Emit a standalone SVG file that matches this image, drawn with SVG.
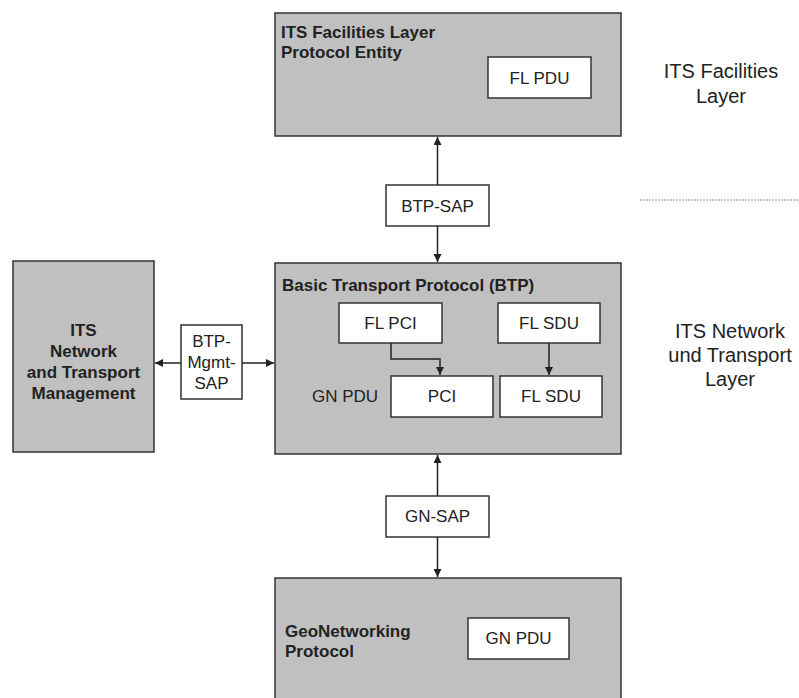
<svg xmlns="http://www.w3.org/2000/svg" width="799" height="698" viewBox="0 0 799 698">
<style>
  .layer { fill: #c0c0c0; stroke: #333; stroke-width: 1.5; }
  .box { fill: #ffffff; stroke: #333; stroke-width: 1.5; }
  .t { font-family: "Liberation Sans", Arial, sans-serif; font-size: 17px; fill: #222; }
  .b { font-weight: bold; }
  .c { text-anchor: middle; }
  .big { font-size: 20px; }
  .conn { stroke: #222; stroke-width: 1.5; fill: none; marker-end: url(#ah); }
</style>
<defs>
  <marker id="ah" viewBox="0 0 10 10" refX="10" refY="5" markerWidth="9" markerHeight="8" markerUnits="userSpaceOnUse" orient="auto">
    <path d="M0,0 L10,5 L0,10 Z" fill="#222"/>
  </marker>
</defs>
<rect width="799" height="698" fill="#ffffff"/>

<g id="facilities-entity">
  <rect class="layer" x="275" y="13" width="346" height="123"/>
  <text class="t b" x="281" y="38">ITS Facilities Layer</text>
  <text class="t b" x="281" y="58">Protocol Entity</text>
  <rect class="box" x="488" y="57" width="103" height="41"/>
  <text class="t c" x="539.5" y="84">FL PDU</text>
</g>

<g id="btp-sap">
  <rect class="box" x="386" y="185" width="103" height="41"/>
  <text class="t c" x="437.5" y="212">BTP-SAP</text>
</g>

<g id="btp">
  <rect class="layer" x="275" y="263" width="346" height="191"/>
  <text class="t b" x="282" y="291">Basic Transport Protocol (BTP)</text>
  <rect class="box" x="339" y="303" width="103" height="40"/>
  <text class="t c" x="390.5" y="329">FL PCI</text>
  <rect class="box" x="498" y="303" width="102" height="40"/>
  <text class="t c" x="549" y="329">FL SDU</text>
  <text class="t" x="312" y="402">GN PDU</text>
  <rect class="box" x="391" y="376" width="102" height="41"/>
  <text class="t c" x="442" y="402">PCI</text>
  <rect class="box" x="500" y="376" width="102" height="41"/>
  <text class="t c" x="551" y="402">FL SDU</text>
</g>

<g id="management">
  <rect class="layer" x="13" y="261" width="141" height="191"/>
  <text class="t b c" x="83.5" y="336">ITS</text>
  <text class="t b c" x="83.5" y="357">Network</text>
  <text class="t b c" x="83.5" y="378">and Transport</text>
  <text class="t b c" x="83.5" y="399">Management</text>
</g>

<g id="btp-mgmt-sap">
  <rect class="box" x="181" y="325" width="61" height="74"/>
  <text class="t c" x="211.5" y="347">BTP-</text>
  <text class="t c" x="211.5" y="368">Mgmt-</text>
  <text class="t c" x="211.5" y="389">SAP</text>
</g>

<g id="gn-sap">
  <rect class="box" x="386" y="496" width="103" height="41"/>
  <text class="t c" x="437.5" y="522">GN-SAP</text>
</g>

<g id="geonetworking">
  <rect class="layer" x="275" y="578" width="346" height="130"/>
  <text class="t b" x="285" y="637">GeoNetworking</text>
  <text class="t b" x="285" y="657">Protocol</text>
  <rect class="box" x="468" y="618" width="101" height="41"/>
  <text class="t c" x="518.5" y="644">GN PDU</text>
</g>

<g id="layer-labels">
  <text class="t c big" x="721" y="78">ITS Facilities</text>
  <text class="t c big" x="721" y="103">Layer</text>
  <line x1="640" y1="200" x2="799" y2="200" stroke="#888" stroke-width="1" stroke-dasharray="2,1"/>
  <text class="t c big" x="730" y="338">ITS Network</text>
  <text class="t c big" x="730" y="362">und Transport</text>
  <text class="t c big" x="730" y="386">Layer</text>
</g>

<g id="connectors">
  <line class="conn" x1="437.5" y1="185" x2="437.5" y2="137"/>
  <line class="conn" x1="437.5" y1="226" x2="437.5" y2="262"/>
  <line class="conn" x1="437.5" y1="496" x2="437.5" y2="455"/>
  <line class="conn" x1="437.5" y1="537" x2="437.5" y2="577"/>
  <line class="conn" x1="181" y1="363" x2="155" y2="363"/>
  <line class="conn" x1="242" y1="363" x2="274" y2="363"/>
  <polyline class="conn" points="391,343 391,359 440,359 440,375"/>
  <line class="conn" x1="549" y1="343" x2="549" y2="375"/>
</g>
</svg>
